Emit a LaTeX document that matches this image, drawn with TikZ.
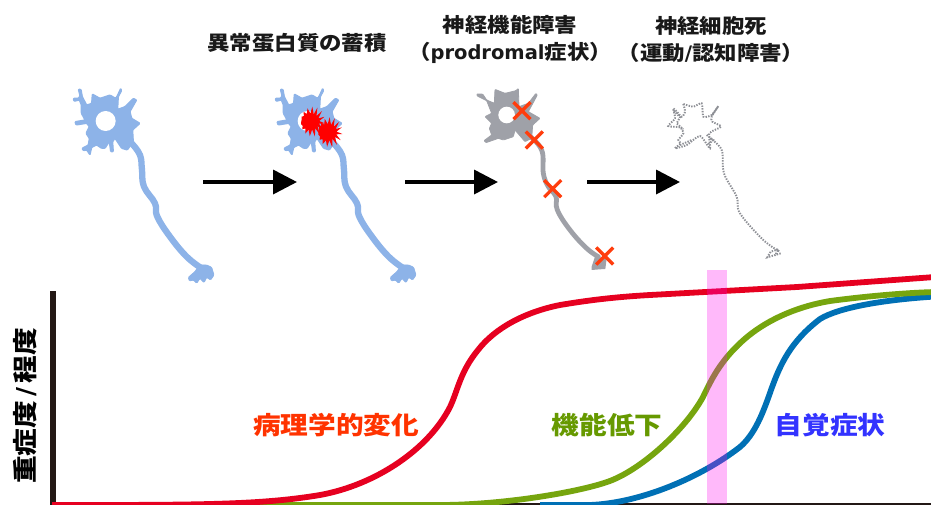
\documentclass[tikz,border=0pt]{standalone}
\usepackage{fontspec}
\usetikzlibrary{arrows.meta,shapes.geometric}
\setmainfont{DejaVu Sans}
\newfontfamily\cjkf[FakeStretch=1.12]{Noto Sans CJK JP}
\newfontfamily\latf{DejaVu Sans}
\definecolor{nblue}{HTML}{8DB3E8}
\definecolor{ngray}{HTML}{9FA1A8}
\definecolor{ndot}{HTML}{8E9096}
\definecolor{xorange}{HTML}{FF3D0D}
\definecolor{cred}{HTML}{E60020}
\definecolor{cgreen}{HTML}{76A50E}
\definecolor{cblue}{HTML}{0070B5}
\definecolor{axisdark}{HTML}{231815}
\definecolor{bandpink}{HTML}{FF00EE}
\tikzset{
  title/.style={font=\fontsize{20}{27}\selectfont\bfseries\cjkf, align=center, inner sep=0pt, text=black!90},
  curvelabel/.style={font=\fontsize{24.7}{28}\selectfont\bfseries\cjkf, inner sep=0pt},
  flow/.style={-{Triangle[length=24pt,width=24pt]}, line width=3.6pt, black},
  curve/.style={line width=5.8pt, line join=round},
  crossmark/.style={line width=3.3pt, xorange},
  dotline/.style={ndot, line width=1.9pt, dash pattern=on 1.4pt off 1.3pt}
}
\newcommand{\neuronshape}[2]{% x-shift, colour
\begin{scope}[shift={(#1,70)},x=0.3333pt,y=-0.3333pt]
  \filldraw[#2,line width=1.2pt,line join=round,rounded corners=0.8pt] (94,105)--(88,90)--(72,94)--(70,85)--(85,85)--(90,78)--(85,58)--(93,58)--(97,80)--(110,105)--(125,100)--(127,72)--(150,85)--(180,75)--(197,85)--(203,75)--(212,55)--(215,62)--(205,80)--(203,118)--(225,110)--(250,85)--(260,90)--(240,125)--(245,145)--(270,160)--(248,180)--(250,215)--(232,240)--(215,235)--(195,205)--(188,215)--(190,245)--(182,245)--(178,215)--(165,235)--(155,235)--(140,225)--(125,232)--(120,255)--(110,240)--(100,242)--(96,235)--(115,225)--(118,205)--(108,190)--(118,170)--(110,160)--(78,165)--(75,155)--(105,150)--(94,130)--cycle;
  \fill[white] (167,153) circle[radius=30];
  \draw[#2,line width=6.3pt,line cap=round] plot[smooth,tension=0.7] coordinates {(245,220)(270,255)(276,300)(282,350)(315,400)(322,440)(360,500)(410,560)(455,595)};
  \filldraw[#2,line width=0.8pt,rounded corners=1pt] (448,585)--(470,585)--(485,592)--(492,615)--(482,630)--(470,622)--(462,638)--(450,625)--(440,640)--(430,630)--(418,633)--(415,622)--(435,605)--cycle;
\end{scope}}
\newcommand{\burstshape}[2]{%
  \fill[red] plot[samples=31,domain=0:348,variable=\t]
    ({#1+10.5*(1+0.28*cos(15*\t))*cos(\t+6)},{#2+11.5*(1+0.42*cos(15*\t))*sin(\t+6)}) -- cycle;}
\begin{document}
\begin{tikzpicture}[x=1pt,y=-1pt]
\useasboundingbox (0,0) rectangle (931,504);
\fill[white] (0,0) rectangle (931,504);

% neurons
\neuronshape{50}{nblue}
\neuronshape{252}{nblue}
\burstshape{311.7}{121.7}
\burstshape{329}{132.3}

% damaged neuron
\begin{scope}[shift={(460,70)},x=0.3333pt,y=-0.3333pt]
  \filldraw[ngray,line width=0.8pt,line join=round,rounded corners=0.8pt] (50,72)--(68,72)--(80,90)--(103,100)--(105,58)--(135,70)--(168,62)--(175,55)--(177,110)--(205,100)--(228,70)--(232,75)--(205,125)--(240,145)--(218,165)--(215,205)--(195,215)--(165,180)--(160,200)--(130,210)--(115,205)--(78,218)--(72,212)--(95,195)--(88,175)--(95,160)--(75,140)--(95,130)--(80,92)--(52,78)--cycle;
  \fill[white] (140,135) circle[radius=25];
  \draw[ngray,line width=4.8pt,line cap=round] plot[smooth,tension=0.7] coordinates {(205,195)(245,240)(250,310)(265,350)(288,380)(292,420)(330,480)(380,535)(415,560)};
  \fill[ngray] (405,560)--(440,565)--(436,597)--(420,598)--(395,600)--(395,590)--cycle;
\end{scope}
\foreach \cx/\cy in {522/110.7,534.3/140,552.7/188.7,604.7/256}{
  \draw[crossmark] (\cx-8.5,\cy-8.5) -- (\cx+8.5,\cy+8.5) (\cx-8.5,\cy+8.5) -- (\cx+8.5,\cy-8.5);
}

% dead neuron
\begin{scope}[shift={(650,90)},x=0.3333pt,y=-0.3333pt]
  \draw[dotline] plot[smooth,tension=0.4] coordinates {(100,42)(105,65)(95,80)(70,55)(75,85)(55,108)(90,112)(100,130)(85,150)(92,160)(75,175)(110,165)(150,138)(180,175)(178,130)(213,110)(187,95)(185,80)(205,48)(185,75)(160,80)(155,40)(130,50)(100,42)};
  \draw[dotline] (72,62)--(90,82)--(80,100)--(100,118) (170,135)--(190,150)--(172,165) (90,165)--(125,150);
  \draw[dotline] plot[smooth,tension=0.6] coordinates {(180,145)(215,180)(222,250)(260,320)(270,370)(340,450)(390,485)};
  \draw[dotline] (392,490)--(352,502)--(362,485)--(385,478)--(375,497);
\end{scope}

% flow arrows
\coordinate (a1s) at (203,182); \coordinate (a1e) at (297,182);
\coordinate (a2s) at (405,182); \coordinate (a2e) at (498,182);
\coordinate (a3s) at (587,182); \coordinate (a3e) at (680,182);
\draw[flow] (a1s) -- (a1e);
\draw[flow] (a2s) -- (a2e);
\draw[flow] (a3s) -- (a3e);

% titles
\node[title] (t1) at (297,43) {異常蛋白質の蓄積};
\node[title] (t2) at (510,39) {神経機能障害\\（{\latf\fontsize{19.5}{27}\selectfont prodromal}症状）};
\node[title] (t3) at (711,39) {神経細胞死\\（運動{\latf /}認知障害）};

% axes
\draw[axisdark,line width=6pt] (53,291) -- (53,504);
\draw[axisdark,line width=2pt] (50,503.5) -- (931,503.5);

% curves
\draw[curve,cblue] (540,505) -- (590,505) .. controls (640,503) and (700,478) .. (740,447)
  .. controls (755,434) and (763,413) .. (771,390)
  .. controls (780,365) and (790,342) .. (820,319)
  .. controls (838,308) and (880,300) .. (935,296.5);
\draw[curve,cgreen] (250,505) -- (440,505) .. controls (500,505) and (575,493) .. (607,482)
  .. controls (640,471) and (685,430) .. (703,397)
  .. controls (712,378) and (722,358) .. (747,337)
  .. controls (770,318) and (800,306) .. (830,301)
  .. controls (860,297) and (900,293) .. (935,292);
\draw[curve,cred] (52,505) .. controls (200,505) and (260,505) .. (320,495)
  .. controls (375,485) and (428,450) .. (450,407)
  .. controls (458,390) and (460,372) .. (478,350)
  .. controls (495,328) and (525,312) .. (560,305)
  .. controls (590,300) and (615,297) .. (650,295)
  -- (797,287) -- (935,277);

% highlight band
\fill[bandpink,opacity=0.275] (707,270) rectangle (727,504);

% labels
\node[curvelabel,text={rgb,255:red,255;green,51;blue,0}] (l1) at (336,425) {病理学的変化};
\node[curvelabel,text={rgb,255:red,102;green,153;blue,0}] (l2) at (607,425) {機能低下};
\node[curvelabel,text={rgb,255:red,51;green,51;blue,255}] (l3) at (830,425) {自覚症状};
\node[curvelabel,rotate=90,text=black] (yl) at (25,406) {重症度{\latf\,/\,}程度};
\end{tikzpicture}
\end{document}
